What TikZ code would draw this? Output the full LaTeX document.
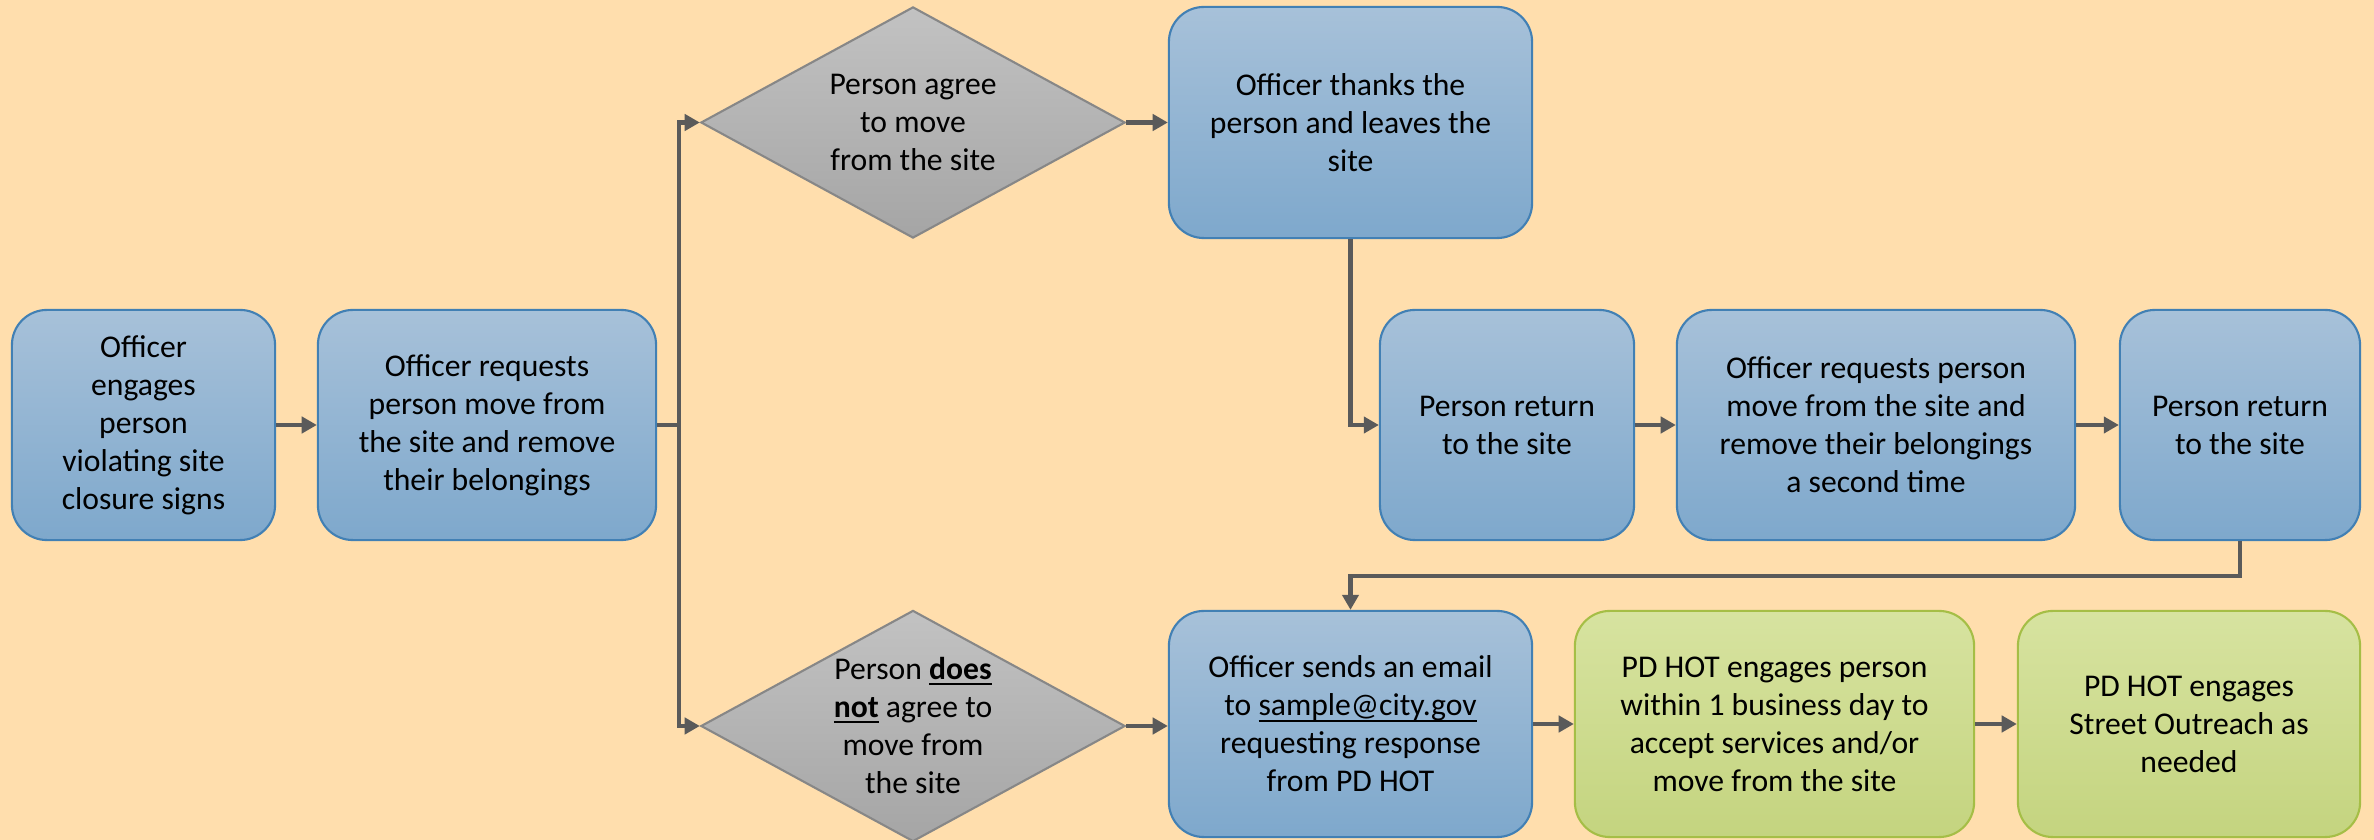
\documentclass[tikz,border=0pt]{standalone}
\usepackage{fontspec}
\setmainfont{Carlito}
\usetikzlibrary{shapes.geometric, arrows.meta}

\definecolor{pagebg}{RGB}{255,222,173}
\definecolor{bluetop}{RGB}{167,193,217}
\definecolor{bluebot}{RGB}{126,168,204}
\definecolor{blueedge}{RGB}{66,128,180}
\definecolor{greentop}{RGB}{215,227,160}
\definecolor{greenbot}{RGB}{196,212,127}
\definecolor{greenedge}{RGB}{165,190,70}
\definecolor{graytop}{RGB}{194,194,194}
\definecolor{graybot}{RGB}{165,165,165}
\definecolor{grayedge}{RGB}{135,135,135}
\definecolor{flowline}{RGB}{90,90,90}

\newcommand{\lowline}[1]{\underline{\smash{#1}}}

\begin{document}
\begin{tikzpicture}[x=0.01cm, y=-0.01cm,
    font=\fontsize{9}{10.8}\selectfont,
    bluebox/.style={rectangle, rounded corners=0.35cm, draw=blueedge, line width=0.6pt,
        top color=bluetop, bottom color=bluebot, align=center, minimum height=2.30cm, inner sep=2pt},
    greenbox/.style={bluebox, draw=greenedge, top color=greentop, bottom color=greenbot},
    choice/.style={diamond, draw=grayedge, line width=0.6pt, top color=graytop, bottom color=graybot,
        minimum width=4.24cm, minimum height=2.31cm, inner sep=0pt},
    flow/.style={draw=flowline, line width=1.15pt, -{Triangle[length=4.3pt, width=4.6pt]}},
]
    % Page
    \fill[pagebg] (0,0) rectangle (2374,840);
    \useasboundingbox (0,0) rectangle (2374,840);

    % Middle row
    \node[bluebox, minimum width=2.63cm] (engage) at (143.5,425) {Officer\\engages\\person\\violating site\\closure signs};
    \node[bluebox, minimum width=3.38cm] (request) at (487,425) {Officer requests\\person move from\\the site and remove\\their belongings};
    \coordinate (split) at (679,425);

    % Upper branch
    \node[choice, label={[align=center]center:{Person agree\\to move\\from the site}}] (agree) at (913,122.5) {};
    \node[bluebox, minimum width=3.63cm, minimum height=2.31cm] (thanks) at (1350.5,122.5) {Officer thanks the\\person and leaves the\\site};
    \node[bluebox, minimum width=2.54cm] (return1) at (1507,425) {Person return\\to the site};
    \node[bluebox, minimum width=3.98cm] (second) at (1876,425) {Officer requests person\\move from the site and\\remove their belongings\\a second time};
    \node[bluebox, minimum width=2.40cm] (return2) at (2240,425) {Person return\\to the site};

    % Lower branch
    \node[choice, label={[align=center]center:{Person \lowline{\textbf{does}}\\\lowline{\textbf{not}} agree to\\move from\\the site}}] (refuse) at (913,726) {};
    \node[bluebox, minimum width=3.63cm, minimum height=2.26cm] (email) at (1350.5,724) {Officer sends an email\\to \lowline{sample@city.gov}\\requesting response\\from PD HOT};
    \node[greenbox, minimum width=3.99cm, minimum height=2.26cm] (hot) at (1774.5,724) {PD HOT engages person\\within 1 business day to\\accept services and/or\\move from the site};
    \node[greenbox, minimum width=3.42cm, minimum height=2.26cm] (outreach) at (2189,724) {PD HOT engages\\Street Outreach as\\needed};

    % Connectors
    \draw[flow] (engage) -- (request);
    \draw[draw=flowline, line width=1.15pt] (request.east) -- (split);
    \draw[flow] (split) |- (agree.west);
    \draw[flow] (split) |- (refuse.west);
    \draw[flow] (agree.east) -- (thanks.west);
    \draw[flow] (thanks.south) |- (return1.west);
    \draw[flow] (return1) -- (second);
    \draw[flow] (second) -- (return2);
    \coordinate (back) at (2240,576);
    \draw[flow] (return2.south) -- (back) -| (email.north);
    \draw[flow] (refuse.east) -- (refuse.east -| email.west);
    \draw[flow] (email.east |- hot.west) -- (hot.west);
    \draw[flow] (hot) -- (outreach);
\end{tikzpicture}
\end{document}
